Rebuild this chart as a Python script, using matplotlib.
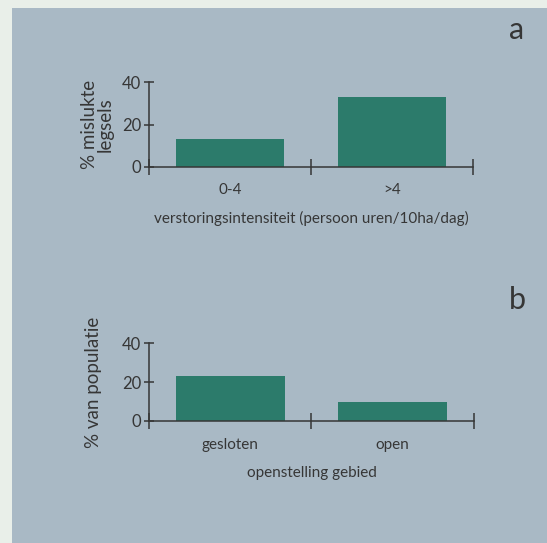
import matplotlib
matplotlib.use('Agg')
import matplotlib.pyplot as plt
from matplotlib.patches import Rectangle

# panel a: failed clutches per disturbance intensity
cats_a = ['0-4', '>4']
vals_a = [13, 33]
# panel b: share of population per area access
cats_b = ['gesloten', 'open']
vals_b = [23, 9.5]

bar_color = '#2c7b6b'
ink = '#363636'
panel_bg = '#a9b9c5'

plt.rcParams['font.family'] = ['Lato', 'DejaVu Sans']
plt.rcParams['text.color'] = ink


def draw_panel(ax, cats, vals, xlabel, ylabel, ylabelpad):
    ax.set_facecolor('none')
    ax.bar([0.5, 1.5], vals, width=0.67, color=bar_color, zorder=2)
    ax.set_xlim(0, 2)
    ax.set_ylim(0, 40)
    for s in ['top', 'right']:
        ax.spines[s].set_visible(False)
    for s in ['left', 'bottom']:
        ax.spines[s].set_color(ink)
        ax.spines[s].set_linewidth(1.1)
    ax.set_yticks([0, 20, 40])
    ax.set_xticks([0, 1, 2])
    ax.set_xticklabels([])
    ax.set_xticks([0.5, 1.5], cats, minor=True)
    ax.tick_params(axis='y', direction='inout', length=7.5, width=1.1,
                   color=ink, labelcolor=ink, labelsize=12, pad=2)
    ax.tick_params(axis='x', which='major', direction='inout', length=11,
                   width=1.1, color=ink)
    ax.tick_params(axis='x', which='minor', length=0, pad=12,
                   labelcolor=ink, labelsize=11)
    ax.set_xlabel(xlabel, fontsize=11, color=ink, labelpad=10)
    ax.set_ylabel(ylabel, fontsize=13.5, color=ink, labelpad=ylabelpad,
                  linespacing=0.9)


fig = plt.figure(figsize=(5.47, 5.43), dpi=100)
fig.patch.set_facecolor('#e9efe9')
fig.patches.append(Rectangle((12 / 547, 0), 1, 1 - 8 / 543,
                             transform=fig.transFigure, facecolor=panel_bg,
                             edgecolor='none', zorder=-1))

ax1 = fig.add_axes([0.2724, 0.693, 0.592, 0.1554])
draw_panel(ax1, cats_a, vals_a,
           'verstoringsintensiteit (persoon uren/10ha/dag)',
           '% mislukte\nlegsels', 6)

ax2 = fig.add_axes([0.2724, 0.2247, 0.594, 0.1436])
draw_panel(ax2, cats_b, vals_b, 'openstelling gebied', '% van populatie', 14)

fig.text(517 / 547, 1 - 30 / 543, 'a', fontsize=22, color=ink,
         ha='center', va='center')
fig.text(517 / 547, 1 - 300 / 543, 'b', fontsize=22, color=ink,
         ha='center', va='center')

fig.savefig('out.png', dpi=100, facecolor=fig.get_facecolor())
